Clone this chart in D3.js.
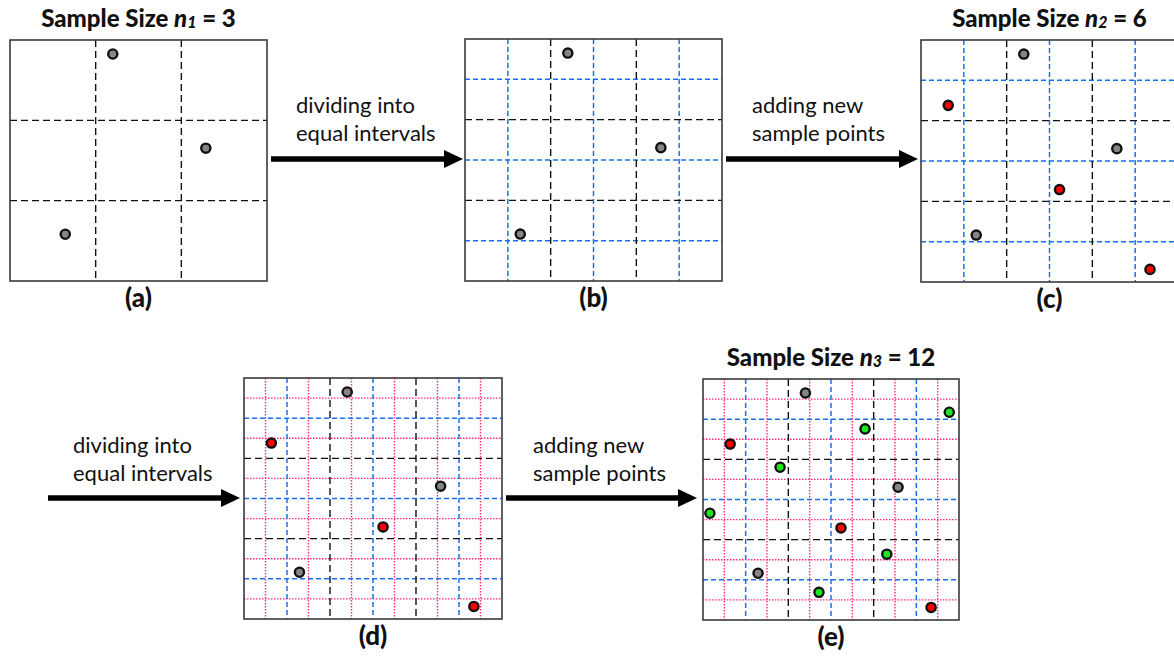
<!DOCTYPE html>
<html>
<head>
<meta charset="utf-8">
<script src="https://cdn.jsdelivr.net/npm/d3@7"></script>
<style>
  body { margin: 0; background: #fff; }
  svg { display: block; font-family: Lato, "Open Sans", sans-serif; }
</style>
</head>
<body>
<script>
// sample points, unit square coords (x from left, y from top)
const grayPts  = [[0.400, 0.058], [0.762, 0.449], [0.215, 0.806]];
const redPts   = [[0.106, 0.270], [0.539, 0.618], [0.891, 0.948]];
const greenPts = [[0.962, 0.138], [0.633, 0.207], [0.301, 0.366],
                  [0.027, 0.557], [0.718, 0.727], [0.453, 0.885]];
const sampleSizes = [3, 6, 12];
const panelLetters = ["(a)", "(b)", "(c)", "(d)", "(e)"];
const arrowTexts = [["dividing into", "equal intervals"], ["adding new", "sample points"]];

const width = 1174, height = 656;

// layout of the five panels
const panels = [
  {x: 10,  y: 40,  w: 257, h: 241, levels: [3],        sets: 1, title: 0},
  {x: 465, y: 39,  w: 257, h: 242, levels: [3, 6],     sets: 1, title: null},
  {x: 921, y: 40,  w: 257, h: 242, levels: [3, 6],     sets: 2, title: 1},
  {x: 244, y: 378, w: 258, h: 241, levels: [3, 6, 12], sets: 2, title: null},
  {x: 703, y: 379, w: 256, h: 241, levels: [3, 6, 12], sets: 3, title: 2}
];
const arrows = [
  {x1: 271, x2: 463, y: 159, tx: 296, ty: 105, t: 0},
  {x1: 726, x2: 918, y: 159, tx: 752, ty: 105, t: 1},
  {x1: 48,  x2: 240, y: 498, tx: 73,  ty: 445, t: 0},
  {x1: 506, x2: 697, y: 498, tx: 533, ty: 445, t: 1}
];

const gridStyle = {
  3:  {stroke: "#111",    width: 1.4, dash: "7,4"},
  6:  {stroke: "#1a6ff0", width: 1.5, dash: "5,3"},
  12: {stroke: "#ff2a80", width: 1.4, dash: "1.5,1.5"}
};
const pointSets = [
  {pts: grayPts,  fill: "#858585"},
  {pts: redPts,   fill: "#ff0000"},
  {pts: greenPts, fill: "#1ee61e"}
];

const svg = d3.select("body").append("svg")
  .attr("width", width)
  .attr("height", height);

panels.forEach((p, pi) => {
  const x = d3.scaleLinear().domain([0, 1]).range([p.x, p.x + p.w]);
  const y = d3.scaleLinear().domain([0, 1]).range([p.y, p.y + p.h]);
  const g = svg.append("g");

  // finest grid first so coarser dashes sit on top
  p.levels.slice().reverse().forEach(n => {
    const st = gridStyle[n];
    // only lines that the coarser grid does not already have
    const ks = d3.range(1, n).filter(k => n === 3 || k % 2 === 1);
    g.selectAll(null).data(ks).join("line")
      .attr("x1", k => x(k / n)).attr("x2", k => x(k / n))
      .attr("y1", y(0)).attr("y2", y(1))
      .attr("stroke", st.stroke).attr("stroke-width", st.width)
      .attr("stroke-dasharray", st.dash);
    g.selectAll(null).data(ks).join("line")
      .attr("y1", k => y(k / n)).attr("y2", k => y(k / n))
      .attr("x1", x(0)).attr("x2", x(1))
      .attr("stroke", st.stroke).attr("stroke-width", st.width)
      .attr("stroke-dasharray", st.dash);
  });

  g.append("rect")
    .attr("x", x(0)).attr("y", y(0))
    .attr("width", x(1) - x(0)).attr("height", y(1) - y(0))
    .attr("fill", "none")
    .attr("stroke", "#3a3a3a")
    .attr("stroke-width", 1.6);

  pointSets.slice(0, p.sets).forEach(s => {
    g.selectAll(null).data(s.pts).join("circle")
      .attr("cx", d => x(d[0]))
      .attr("cy", d => y(d[1]))
      .attr("r", 4.6)
      .attr("fill", s.fill)
      .attr("stroke", "#111")
      .attr("stroke-width", 2.4);
  });

  // panel letter
  g.append("text")
    .attr("x", (x(0) + x(1)) / 2)
    .attr("y", y(1) + 26)
    .attr("text-anchor", "middle")
    .attr("font-size", 26)
    .attr("font-weight", 900)
    .attr("fill", "#111")
    .text(panelLetters[pi]);

  if (p.title !== null) {
    const t = g.append("text")
      .attr("x", (x(0) + x(1)) / 2)
      .attr("y", y(0) - 13)
      .attr("text-anchor", "middle")
      .attr("font-size", 24)
      .attr("font-weight", 900)
      .attr("fill", "#111");
    t.append("tspan").text("Sample Size ");
    t.append("tspan").attr("font-style", "italic").text("n");
    t.append("tspan").attr("font-style", "italic").attr("font-size", 16).attr("dy", 1)
      .text(p.title + 1);
    t.append("tspan").attr("dy", -1).text(" = " + sampleSizes[p.title]);
  }
});

arrows.forEach(a => {
  const g = svg.append("g");
  g.append("line")
    .attr("x1", a.x1).attr("x2", a.x2 - 16)
    .attr("y1", a.y).attr("y2", a.y)
    .attr("stroke", "#000").attr("stroke-width", 5.5);
  g.append("path")
    .attr("d", `M${a.x2},${a.y} L${a.x2 - 19},${a.y - 9} L${a.x2 - 19},${a.y + 9} Z`)
    .attr("fill", "#000");
  g.selectAll(null).data(arrowTexts[a.t]).join("text")
    .attr("x", a.tx)
    .attr("y", (d, i) => a.ty + i * 28)
    .attr("dy", "0.35em")
    .attr("font-size", 22)
    .attr("fill", "#111")
    .text(d => d);
});
</script>
</body>
</html>
